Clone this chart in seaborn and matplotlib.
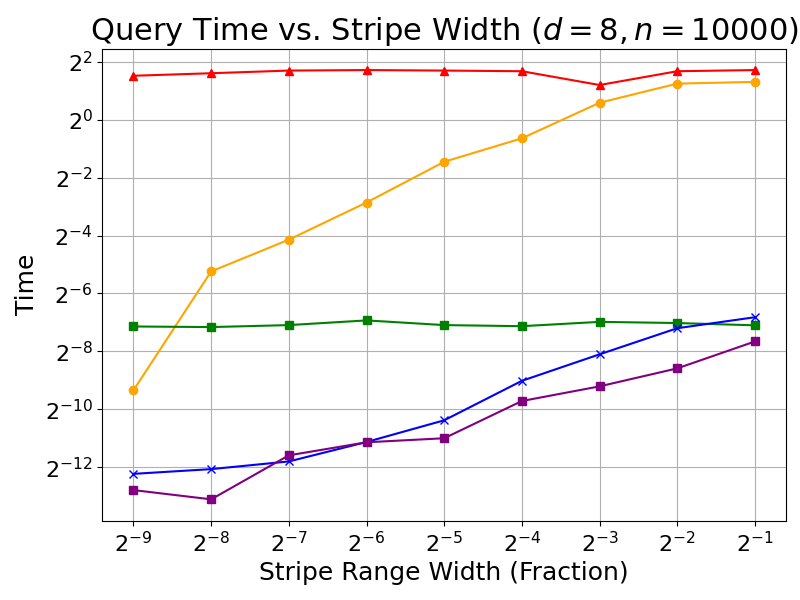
import matplotlib

matplotlib.use("Agg")
import matplotlib.pyplot as plt
import seaborn as sns

sns.set_style("ticks", {
    "axes.edgecolor": "black",
    "axes.labelcolor": "black",
    "text.color": "black",
    "xtick.color": "black",
    "ytick.color": "black",
})

widths = [1/512, 1/256, 1/128, 1/64, 1/32, 1/16, 1/8, 1/4, 1/2]
red_times = [2.87, 3.05, 3.25, 3.29, 3.25, 3.20, 2.30, 3.20, 3.29]
orange_times = [0.00154, 0.0265, 0.0567, 0.138, 0.366, 0.642, 1.505, 2.378, 2.48]
green_times = [0.00709, 0.00699, 0.00733, 0.00820, 0.00733, 0.00714, 0.00792, 0.00770, 0.00729]
blue_times = [0.000208, 0.000233, 0.000280, 0.000446, 0.000750, 0.00193, 0.00364, 0.00680, 0.00885]
purple_times = [0.000141, 0.000113, 0.000324, 0.000443, 0.000488, 0.00119, 0.00169, 0.00260, 0.00495]

x_ticks = [1/512, 1/256, 1/128, 1/64, 1/32, 1/16, 1/8, 1/4, 1/2]
x_tick_labels = ["$2^{-9}$", "$2^{-8}$", "$2^{-7}$", "$2^{-6}$", "$2^{-5}$",
                 "$2^{-4}$", "$2^{-3}$", "$2^{-2}$", "$2^{-1}$"]
y_ticks = [2**-12, 2**-10, 2**-8, 2**-6, 2**-4, 2**-2, 1, 4]
y_tick_labels = ["$2^{-12}$", "$2^{-10}$", "$2^{-8}$", "$2^{-6}$", "$2^{-4}$",
                 "$2^{-2}$", "$2^{0}$", "$2^{2}$"]

series = [
    (red_times, "red", "^"),
    (orange_times, "orange", "o"),
    (green_times, "green", "s"),
    (blue_times, "blue", "x"),
    (purple_times, "purple", "s"),
]

fig, ax = plt.subplots(figsize=(8, 6), dpi=100)
fig.subplots_adjust(left=0.128, right=0.9825, top=0.919, bottom=0.132)

for ys, color, marker in series:
    sns.lineplot(x=widths, y=ys, color=color, marker=marker, markersize=6,
                 markeredgecolor=color, markeredgewidth=1, linewidth=1.5, ax=ax)

ax.set_xscale("log", base=2)
ax.set_yscale("log", base=2)
ax.set_xticks(x_ticks)
ax.set_xticklabels(x_tick_labels)
ax.set_yticks(y_ticks)
ax.set_yticklabels(y_tick_labels)
ax.minorticks_off()
ax.tick_params(labelsize=16, length=3.5, width=0.8, color="black", direction="out")
ax.grid(True, color="#b0b0b0", linewidth=0.8)
for spine in ax.spines.values():
    spine.set_visible(True)
    spine.set_color("black")
    spine.set_linewidth(0.8)

ax.set_title("Query Time vs. Stripe Width ($d = 8, n = 10000$)", fontsize=22)
ax.set_xlabel("Stripe Range Width (Fraction)", fontsize=18)
ax.set_ylabel("Time", fontsize=18)

fig.savefig("out.png", dpi=100)
plt.close(fig)
